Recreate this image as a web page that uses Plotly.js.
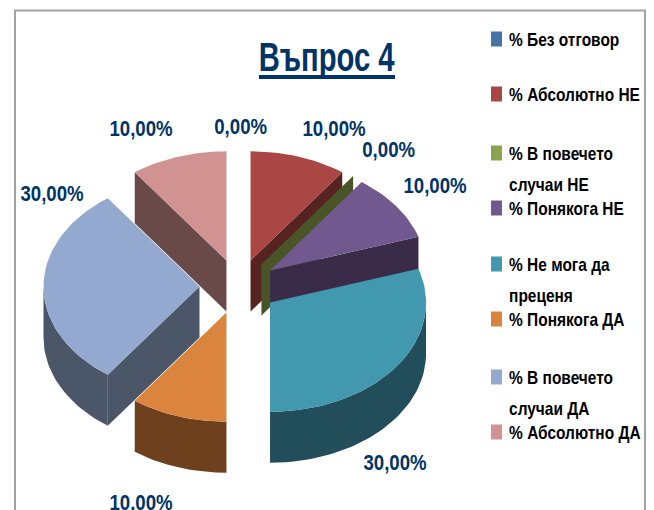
<!DOCTYPE html>
<html><head><meta charset="utf-8">
<script src="https://cdn.plot.ly/plotly-3.0.1.min.js"></script>
<style>html,body{margin:0;padding:0;background:#fff}</style></head>
<body><div id="chart" style="width:654px;height:510px"></div>
<script>
// DATA
const categories = ['% Без отговор','% Абсолютно НЕ','% В повечето случаи НЕ','% Понякога НЕ','% Не мога да преценя','% Понякога ДА','% В повечето случаи ДА','% Абсолютно ДА'];
const values = [0,10,0,10,30,10,30,10];
const titleText = 'Въпрос 4';
// STYLE
const topColors  = ['#4572A7','#AA4643','#89A54E','#71588F','#4198AF','#DB843D','#93A9CF','#D19392'];
const wallColors = ['#2A4565','#572320','#4A5527','#3A2C49','#224D5A','#6E401E','#4C5669','#6A4A49'];
const drawOrder = [0,7,1,2,3,4,5,6];
const legendLines = [['% Без отговор'],['% Абсолютно НЕ'],['% В повечето','случаи НЕ'],['% Понякога НЕ'],['% Не мога да','преценя'],['% Понякога ДА'],['% В повечето','случаи ДА'],['% Абсолютно ДА']];
const legendRowY = [39,94,153,208,264,319,377,432];
const labelPos = [[240,126],[334,128],[388,149],[435,185],[395,462],[141,502],[52,193],[141,128]];
const FONT = '"Liberation Sans",sans-serif';
const NAVY = '#003366';
// 3D projection of the pie
const cx=238.5, cy=286.5, R=156, tilt=0.7, depth=51, pull=39;
const total = values.reduce((a,b)=>a+b,0);
const rad = d=>d*Math.PI/180;
const px = (c,r,a)=>c.x + r*Math.sin(rad(a));
const py = (c,r,a)=>c.y - tilt*r*Math.cos(rad(a));

function poly(points,color,name){
  const xs=points.map(p=>p[0]), ys=points.map(p=>p[1]);
  xs.push(xs[0]); ys.push(ys[0]);
  return {type:'scatter',mode:'lines',x:xs,y:ys,fill:'toself',fillcolor:color,line:{width:0,color:color},
          hoverinfo:'skip',showlegend:false,name:name};
}
function arc(c,a,b){
  const pts=[]; const n=Math.max(1,Math.ceil((b-a)/2));
  for(let i=0;i<=n;i++){const t=a+(b-a)*i/n; pts.push([px(c,R,t),py(c,R,t)]);}
  return pts;
}
let cum=0;
const slices = values.map((v,i)=>{
  const a=cum/total*360; cum+=v; const b=cum/total*360; const m=(a+b)/2;
  return {i,a,b,c:{x:cx+pull*Math.sin(rad(m)), y:cy-tilt*pull*Math.cos(rad(m))}};
});
const traces=[];
drawOrder.forEach(k=>{
  const s=slices[k], c=s.c, wall=wallColors[k], name=categories[k];
  const radial=ang=>{
    const e=[px(c,R,ang),py(c,R,ang)];
    return [[c.x,c.y],e,[e[0],e[1]+depth],[c.x,c.y+depth]];
  };
  if(Math.sin(rad(s.a))<-1e-6 && s.b>s.a) traces.push(poly(radial(s.a),wall,name));
  if(Math.sin(rad(s.b))>1e-6) traces.push(poly(radial(s.b),wall,name));
  const lo=Math.max(s.a,90), hi=Math.min(s.b,270);
  if(hi>lo){
    const up=arc(c,lo,hi);
    const down=up.slice().reverse().map(p=>[p[0],p[1]+depth]);
    traces.push(poly(up.concat(down),wall,name));
  }
  if(s.b>s.a) traces.push(poly([[c.x,c.y]].concat(arc(c,s.a,s.b)),topColors[k],name));
});

const annotations=[];
values.forEach((v,i)=>{
  annotations.push({x:labelPos[i][0],y:labelPos[i][1],xref:'x',yref:'y',showarrow:false,xanchor:'center',yanchor:'middle',
    text:'<b>'+v.toFixed(2).replace('.',',')+'%</b>',font:{family:FONT,size:23,color:NAVY}});
});
const shapes=[
  {type:'path',path:'M15,520 L15,10.5 L645,10.5 L645,520',xref:'x',yref:'y',line:{color:'#a3a3a3',width:2},layer:'below'},
  {type:'rect',xref:'x',yref:'y',x0:259,x1:395,y0:75,y1:79,fillcolor:NAVY,line:{width:0}}
];
legendLines.forEach((lines,i)=>{
  const y=legendRowY[i];
  shapes.push({type:'rect',xref:'x',yref:'y',x0:491,x1:502,y0:y-7.5,y1:y+7.5,fillcolor:topColors[i],line:{width:0}});
  lines.forEach((t,j)=>annotations.push({x:507,y:y+1+j*30.5,xref:'x',yref:'y',showarrow:false,xanchor:'left',yanchor:'middle',
    text:'<b>'+t+'</b>',font:{family:FONT,size:18,color:'#000000'}}));
});

Plotly.newPlot('chart',traces,{
  width:654,height:510,margin:{l:0,r:0,t:0,b:0},paper_bgcolor:'#fff',plot_bgcolor:'#fff',showlegend:false,
  title:{text:'<b>'+titleText+'</b>',x:326.5/654,xanchor:'center',y:1-57/510,yanchor:'middle',font:{family:FONT,size:40,color:NAVY}},
  xaxis:{visible:false,range:[0,654],fixedrange:true},
  yaxis:{visible:false,range:[510,0],fixedrange:true},
  shapes,annotations
},{displayModeBar:false,staticPlot:true}).then(gd=>{
  // The reference's type is horizontally condensed; no condensed face is installed.
  const squeeze=(el,k,origin)=>{el.style.transformBox='fill-box';el.style.transformOrigin=origin;el.style.transform='scaleX('+k+')';};
  gd.querySelectorAll('.annotation').forEach(a=>{
    const idx=+a.getAttribute('data-index'); const t=a.querySelector('text');
    if(idx<values.length) squeeze(t,0.81,'center center'); else squeeze(t,0.86,'left center');
  });
  const tt=gd.querySelector('.gtitle'); if(tt) squeeze(tt,0.73,'center center');
});
</script></body></html>
